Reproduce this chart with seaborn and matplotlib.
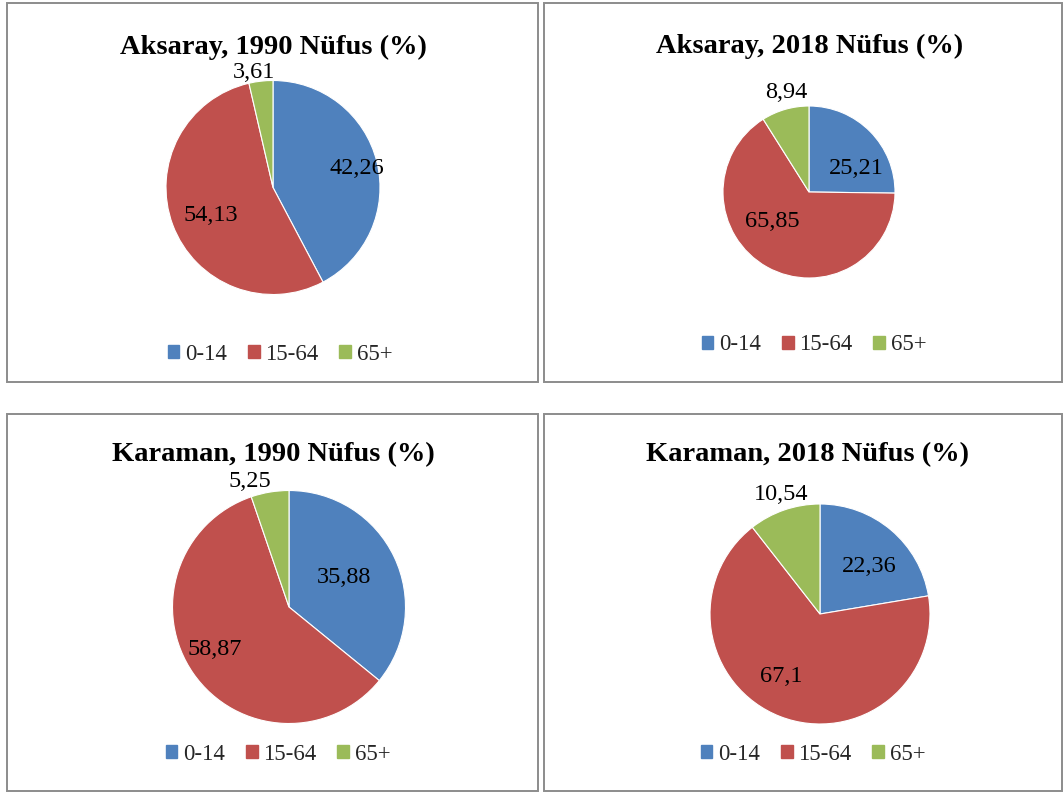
import numpy as np
import matplotlib
matplotlib.use("Agg")
import matplotlib.pyplot as plt
import matplotlib.patches as mpatches
import seaborn as sns

sns.set_theme(style="white")
plt.rcParams['font.family'] = ['Liberation Serif', 'DejaVu Serif']

# age groups and the four charts
age_groups = ['0-14', '15-64', '65+']
titles = ['Aksaray, 1990 Nüfus (%)', 'Aksaray, 2018 Nüfus (%)',
          'Karaman, 1990 Nüfus (%)', 'Karaman, 2018 Nüfus (%)']
aksaray_1990 = [42.26, 54.13, 3.61]
aksaray_2018 = [25.21, 65.85, 8.94]
karaman_1990 = [35.88, 58.87, 5.25]
karaman_2018 = [22.36, 67.1, 10.54]
all_values = [aksaray_1990, aksaray_2018, karaman_1990, karaman_2018]

colors = sns.color_palette(['#4F81BD', '#C0504D', '#9BBB59'])

W, H = 1064, 794
fig = plt.figure(figsize=(W / 100, H / 100), dpi=100)

# layout in pixels (top-left origin)
panels = [(7, 3, 538, 382), (544, 3, 1062, 382),
          (7, 414, 538, 791), (544, 414, 1062, 791)]
pies = [(273, 187.5, 107), (809, 192, 86), (289, 607, 116.5), (820, 614, 110)]
title_pos = [(273, 54), (810, 53), (273, 461), (808, 461)]
legend_pos = [(280, 354), (814, 345), (278, 754), (813, 754)]
# label placement per slice: (distance in radii, angle shift from slice middle in degrees)
label_place = [
    [(0.80, -1), (0.64, 4), (1.09, 3)],
    [(0.61, -18), (0.54, -22), (1.19, -3)],
    [(0.54, 3), (0.73, -5), (1.13, 8)],
    [(0.62, -6), (0.67, -10), (1.14, -1)],
]


def fx(x):
    return x / W


def fy(y):
    return 1 - y / H


for i, vals in enumerate(all_values):
    x0, y0, x1, y1 = panels[i]
    fig.patches.append(mpatches.Rectangle((fx(x0), fy(y1)), fx(x1 - x0), (y1 - y0) / H,
                                          transform=fig.transFigure, fill=False,
                                          edgecolor='#8c8c8c', linewidth=1.4))

    cx, cy, r = pies[i]
    ax = fig.add_axes([fx(cx - r), fy(cy + r), 2 * r / W, 2 * r / H])
    wedges, _ = ax.pie(vals, colors=colors, startangle=90, counterclock=False,
                       wedgeprops=dict(edgecolor='white', linewidth=0.8))
    ax.set_xlim(-1, 1)
    ax.set_ylim(-1, 1)
    ax.axis('off')

    for j, w in enumerate(wedges):
        d, shift = label_place[i][j]
        ang = np.deg2rad((w.theta1 + w.theta2) / 2 + shift)
        txt = f"{vals[j]:g}".replace('.', ',')
        ax.text(d * np.cos(ang), d * np.sin(ang), txt, ha='center', va='center',
                fontsize=17.5, color='black', clip_on=False)

    tx, ty = title_pos[i]
    fig.text(fx(tx), fy(ty), titles[i], ha='center', va='baseline',
             fontsize=20.5, fontweight='bold', color='black')

    lx, ly = legend_pos[i]
    handles = [mpatches.Patch(color=colors[k], label=age_groups[k]) for k in range(3)]
    fig.legend(handles=handles, loc='center', bbox_to_anchor=(fx(lx), fy(ly)), ncol=3,
               frameon=False, fontsize=16.5, handlelength=0.52, handleheight=0.52,
               handletextpad=0.25, columnspacing=0.9, borderpad=0, borderaxespad=0)

fig.savefig('out.png', dpi=100)
